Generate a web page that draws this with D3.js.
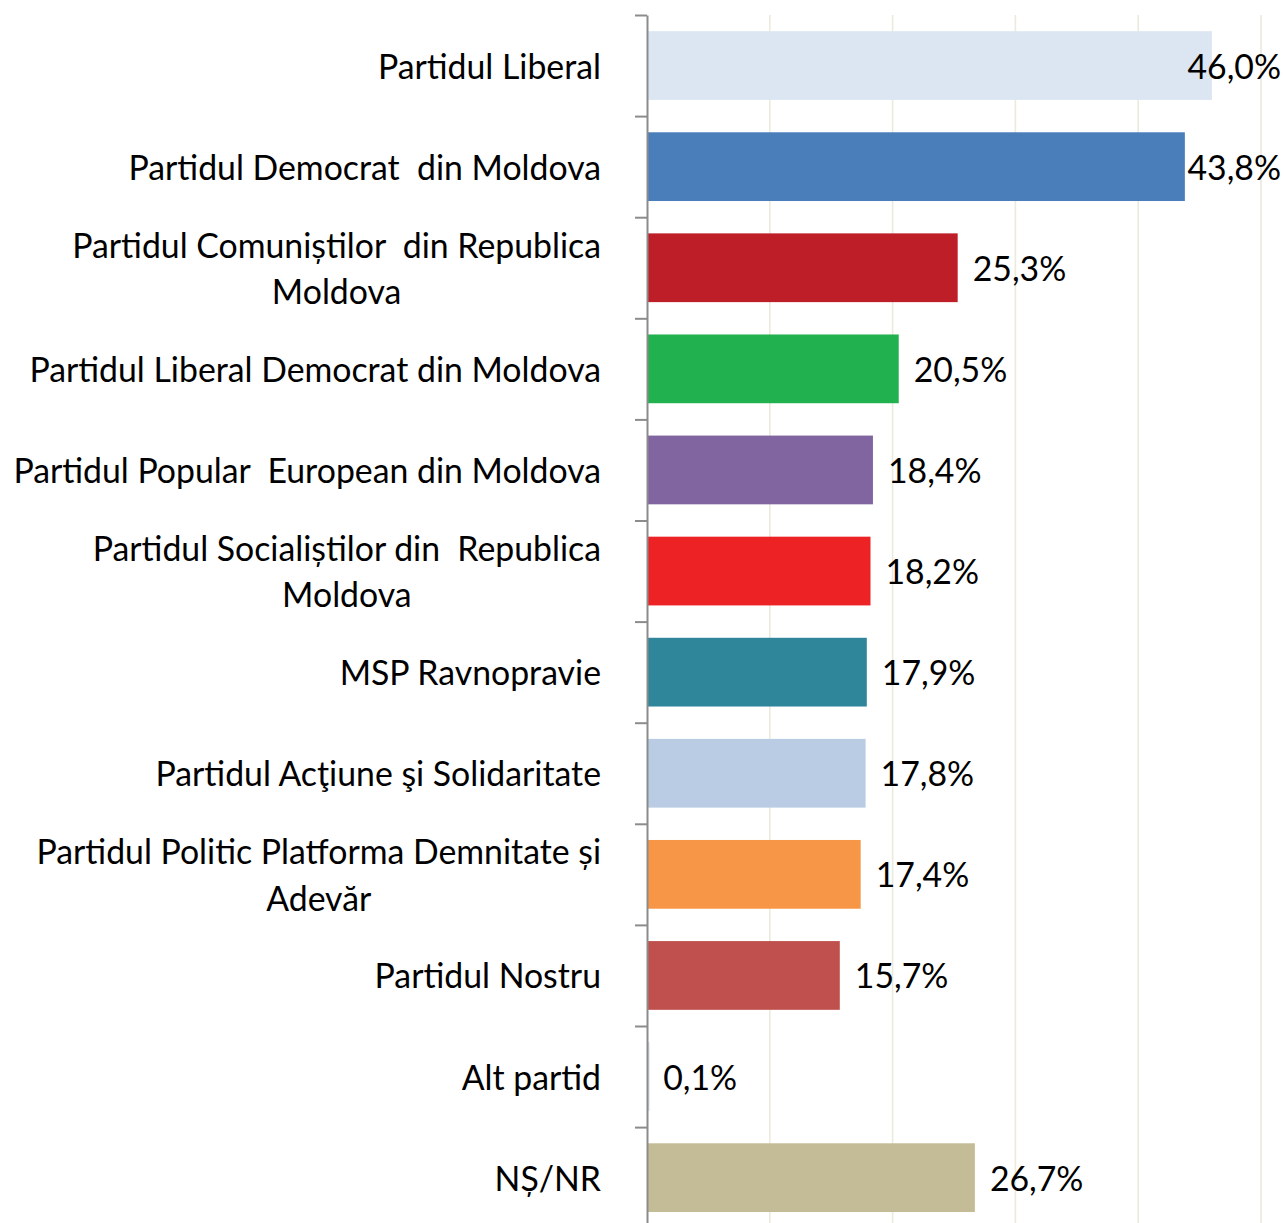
<!DOCTYPE html>
<html>
<head>
<meta charset="utf-8">
<script src="https://cdn.jsdelivr.net/npm/d3@7"></script>
<style>
  html, body { margin: 0; padding: 0; background: #fff; }
  svg { display: block; }
  text { font-family: Lato, "Open Sans", sans-serif; fill: #000; white-space: pre; }
</style>
</head>
<body>
<svg id="chart" width="1285" height="1223"></svg>
<script>
// ---- Data ----
const categories = [
  "Partidul Liberal",
  "Partidul Democrat  din Moldova",
  "Partidul Comuniștilor  din Republica\nMoldova",
  "Partidul Liberal Democrat din Moldova",
  "Partidul Popular  European din Moldova",
  "Partidul Socialiștilor din  Republica\nMoldova",
  "MSP Ravnopravie",
  "Partidul Acţiune şi Solidaritate",
  "Partidul Politic Platforma Demnitate și\nAdevăr",
  "Partidul Nostru",
  "Alt partid",
  "NȘ/NR"
];
const values = [46.0, 43.8, 25.3, 20.5, 18.4, 18.2, 17.9, 17.8, 17.4, 15.7, 0.1, 26.7];
const gridTicks = [10, 20, 30, 40, 50];
const palette = ["#dce6f2", "#4a7ebb", "#be1e27", "#21b24f", "#8165a1", "#ed2224",
                 "#2f869b", "#b9cce4", "#f79646", "#c0504d", "#d6e0ef", "#c4bc97"];

// ---- Layout ----
const W = 1285, H = 1223;
const axisX = 647, plotRight = 1261, plotTop = 15, step = 101.1;
const fontSize = 33.8;
const svg = d3.select("#chart");
const plotBottom = plotTop + step * categories.length;

const x = d3.scaleLinear().domain([0, 50]).range([axisX, plotRight]);
const y = d3.scaleBand().domain(d3.range(categories.length))
  .range([plotTop, plotBottom])
  .paddingInner(0.32).paddingOuter(0.16);

// gridlines
svg.append("g").selectAll("line").data(gridTicks).join("line")
  .attr("x1", d => x(d)).attr("x2", d => x(d))
  .attr("y1", plotTop).attr("y2", plotBottom)
  .attr("stroke", "#ece9dd").attr("stroke-width", 1.6);

// bars
svg.append("g").selectAll("rect").data(values).join("rect")
  .attr("x", x(0))
  .attr("y", (d, i) => y(i))
  .attr("width", d => Math.max(2.5, x(d) - x(0)))
  .attr("height", y.bandwidth())
  .attr("fill", (d, i) => palette[i]);

// axis (left, category)
const yAxisScale = d3.scaleLinear().domain([0, categories.length]).range([plotTop, plotBottom]);
const axisG = svg.append("g").attr("transform", `translate(${axisX},0)`)
  .call(d3.axisLeft(yAxisScale).tickValues(d3.range(categories.length + 1)).tickSize(12).tickSizeOuter(0).tickFormat(""));
axisG.select(".domain").attr("stroke", "#8c8c8c").attr("stroke-width", 2);
axisG.selectAll(".tick line").attr("stroke", "#8c8c8c").attr("stroke-width", 2);

// category labels
const labelRight = 601, lineH = 46.5;
const lg = svg.append("g").style("font-size", fontSize + "px");
categories.forEach((c, i) => {
  const lines = c.split("\n");
  const cy = y(i) + y.bandwidth() / 2;
  const t = lg.append("text").attr("dominant-baseline", "central");
  if (lines.length === 1) {
    t.attr("text-anchor", "end").attr("x", labelRight).attr("y", cy).text(lines[0]);
  } else {
    const tmp = lg.append("text").text(lines[0]);
    let maxW = 0;
    lines.forEach(l => { tmp.text(l); maxW = Math.max(maxW, tmp.node().getComputedTextLength()); });
    tmp.remove();
    const cx = labelRight - maxW / 2;
    t.attr("text-anchor", "middle");
    lines.forEach((l, k) => {
      t.append("tspan").attr("x", cx)
        .attr("y", cy + (k - (lines.length - 1) / 2) * lineH)
        .attr("dominant-baseline", "central")
        .text(l);
    });
  }
});

// value labels
const fmt = v => v.toFixed(1).replace(".", ",") + "%";
const vg = svg.append("g").style("font-size", fontSize + "px");
values.forEach((v, i) => {
  const cy = y(i) + y.bandwidth() / 2;
  const t = vg.append("text").attr("dominant-baseline", "central").text(fmt(v));
  const w = t.node().getComputedTextLength();
  let lx = x(v) + 15;
  if (lx + w > W - 4) lx = W - 4 - w;
  t.attr("x", lx).attr("y", cy);
});
</script>
</body>
</html>
